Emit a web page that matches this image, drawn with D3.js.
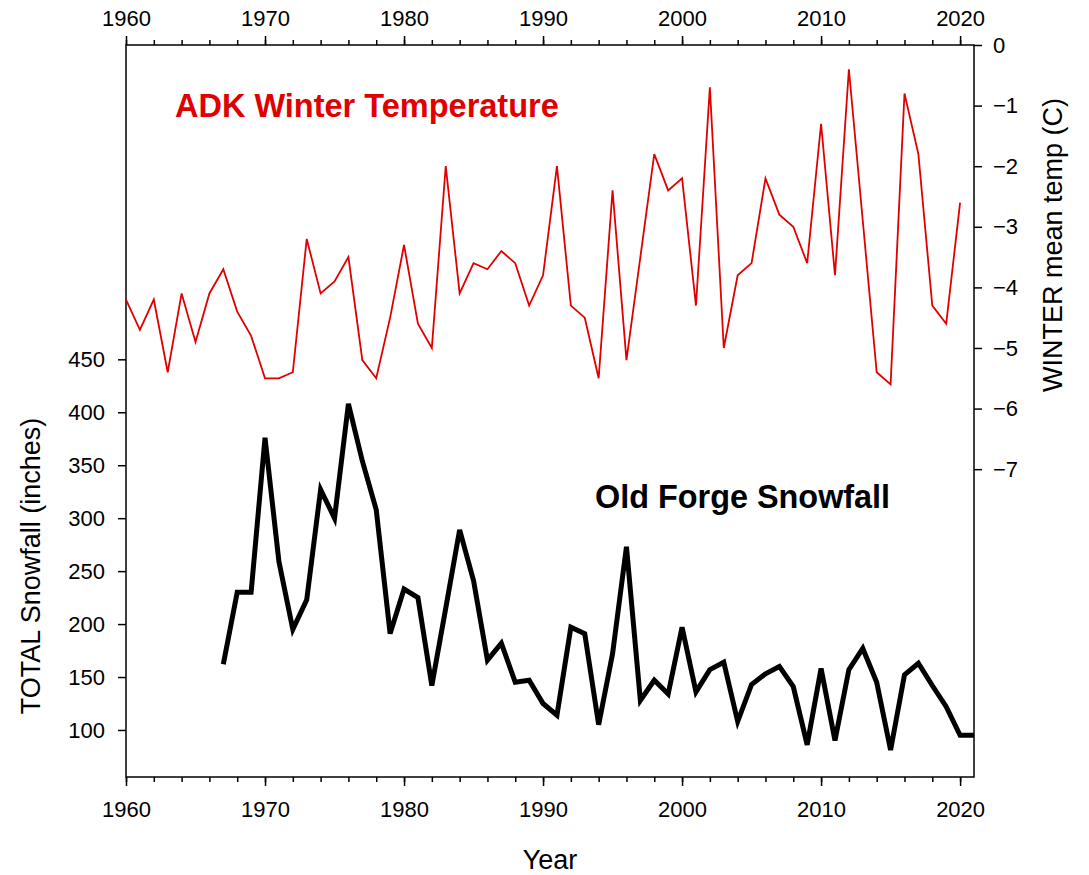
<!DOCTYPE html>
<html>
<head>
<meta charset="utf-8">
<script src="https://cdn.jsdelivr.net/npm/d3@7"></script>
<style>
  html, body { margin: 0; padding: 0; background: #fff; }
  svg { display: block; font-family: "Liberation Sans", Arial, sans-serif; }
  .axis path { display: none; }
  .axis line { stroke: #000; stroke-width: 1.5; }
  .axis text { fill: #000; font-size: 22px; font-family: "Liberation Sans", Arial, sans-serif; }
</style>
</head>
<body>
<svg id="chart" width="1089" height="875"></svg>
<script>
// Adirondack winter mean temperature (°C), 1960–2020
const tempYears = d3.range(1960, 2021);
const tempValues = [
  -4.2, -4.7, -4.2, -5.4, -4.1, -4.9, -4.1, -3.7, -4.4, -4.8,
  -5.5, -5.5, -5.4, -3.2, -4.1, -3.9, -3.5, -5.2, -5.5, -4.5,
  -3.3, -4.6, -5.0, -2.0, -4.1, -3.6, -3.7, -3.4, -3.6, -4.3,
  -3.8, -2.0, -4.3, -4.5, -5.5, -2.4, -5.2, -3.5, -1.8, -2.4,
  -2.2, -4.3, -0.7, -5.0, -3.8, -3.6, -2.2, -2.8, -3.0, -3.6,
  -1.3, -3.8, -0.4, -2.9, -5.4, -5.6, -0.8, -1.8, -4.3, -4.6,
  -2.6
];

// Old Forge total seasonal snowfall (inches), 1967–2021
const snowYears = d3.range(1967, 2022);
const snowValues = [
  162, 230, 230, 376, 259, 195, 223, 327, 300, 408,
  354, 308, 191, 233, 225, 142, 215, 289, 241, 166,
  182, 145, 147, 125, 114, 197, 191, 105, 172, 273,
  128, 147, 134, 197, 136, 157, 164, 108, 143, 153,
  160, 141, 86, 158, 90, 157, 177, 145, 81, 152,
  163, 142, 122, 95, 95
];

// Tick labels
const yearMajorTicks = [1960, 1970, 1980, 1990, 2000, 2010, 2020];
const yearMinorTicks = d3.range(1960, 2022, 2);
const snowTicks = [100, 150, 200, 250, 300, 350, 400, 450];
const tempTicks = [0, -1, -2, -3, -4, -5, -6, -7];

const red = "#e00000";
const svg = d3.select("#chart");
const plot = { left: 126, right: 974, top: 45, bottom: 777 };

const x = d3.scaleLinear().domain([1960, 2021]).range([plot.left, plot.right]);
const ySnow = d3.scaleLinear().domain([55.6, 746.8]).range([plot.bottom, plot.top]);
const yTemp = d3.scaleLinear().domain([-12.08, 0]).range([plot.bottom, plot.top]);

// Frame
svg.append("rect")
  .attr("x", plot.left).attr("y", plot.top)
  .attr("width", plot.right - plot.left).attr("height", plot.bottom - plot.top)
  .attr("fill", "none").attr("stroke", "#000").attr("stroke-width", 1.5);

// Top year axis
svg.append("g").attr("class", "axis")
  .attr("transform", `translate(0,${plot.top})`)
  .call(d3.axisTop(x).tickValues(yearMinorTicks).tickSize(5).tickFormat(""));
svg.append("g").attr("class", "axis")
  .attr("transform", `translate(0,${plot.top})`)
  .call(d3.axisTop(x).tickValues(yearMajorTicks).tickSize(9).tickPadding(10).tickFormat(d3.format("d")));

// Bottom year axis
svg.append("g").attr("class", "axis")
  .attr("transform", `translate(0,${plot.bottom})`)
  .call(d3.axisBottom(x).tickValues(yearMinorTicks).tickSize(5).tickFormat(""));
svg.append("g").attr("class", "axis")
  .attr("transform", `translate(0,${plot.bottom})`)
  .call(d3.axisBottom(x).tickValues(yearMajorTicks).tickSize(9).tickPadding(15).tickFormat(d3.format("d")));

// Left snowfall axis
svg.append("g").attr("class", "axis")
  .attr("transform", `translate(${plot.left},0)`)
  .call(d3.axisLeft(ySnow).tickValues(snowTicks).tickSize(8).tickPadding(13));

// Right temperature axis
svg.append("g").attr("class", "axis")
  .attr("transform", `translate(${plot.right},0)`)
  .call(d3.axisRight(yTemp).tickValues(tempTicks).tickSize(8).tickPadding(11).tickFormat(d3.format("d")));

// Temperature line
svg.append("path")
  .datum(tempYears.map((yr, i) => [yr, tempValues[i]]))
  .attr("fill", "none").attr("stroke", red).attr("stroke-width", 1.8)
  .attr("stroke-linejoin", "miter")
  .attr("d", d3.line().x(d => x(d[0])).y(d => yTemp(d[1])));

// Snowfall line
svg.append("path")
  .datum(snowYears.map((yr, i) => [yr, snowValues[i]]))
  .attr("fill", "none").attr("stroke", "#000").attr("stroke-width", 5)
  .attr("stroke-linejoin", "miter")
  .attr("d", d3.line().x(d => x(d[0])).y(d => ySnow(d[1])));

// Series labels
svg.append("text")
  .attr("x", 175).attr("y", 117)
  .attr("fill", red).attr("font-size", 32.5).attr("font-weight", "bold")
  .text("ADK Winter Temperature");
svg.append("text")
  .attr("x", 595).attr("y", 508)
  .attr("fill", "#000").attr("font-size", 32.4).attr("font-weight", "bold")
  .text("Old Forge Snowfall");

// Axis titles
svg.append("text")
  .attr("transform", "translate(40,566) rotate(-90)")
  .attr("text-anchor", "middle").attr("font-size", 27).attr("fill", "#000")
  .text("TOTAL Snowfall (inches)");
svg.append("text")
  .attr("transform", "translate(1062,245) rotate(-90)")
  .attr("text-anchor", "middle").attr("font-size", 27).attr("fill", "#000")
  .text("WINTER mean temp (C)");
svg.append("text")
  .attr("x", 550).attr("y", 869)
  .attr("text-anchor", "middle").attr("font-size", 27).attr("fill", "#000")
  .text("Year");
</script>
</body>
</html>
